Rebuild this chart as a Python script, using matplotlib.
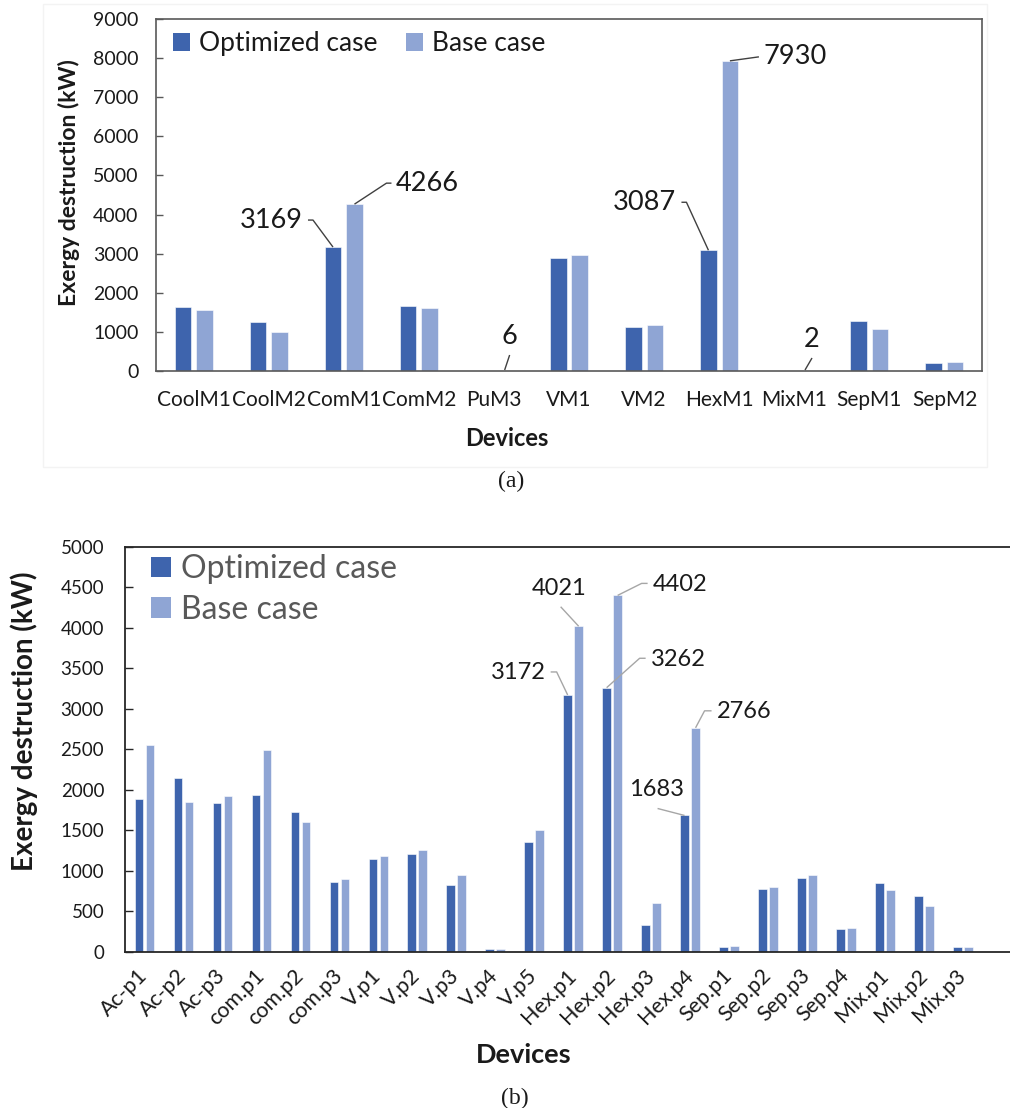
import numpy as np
import matplotlib
matplotlib.use("Agg")
import matplotlib.pyplot as plt
from matplotlib.patches import Rectangle, Patch

plt.rcParams['font.family'] = ['Lato', 'DejaVu Sans']

# ---------------- data ----------------
cats_a = ["CoolM1", "CoolM2", "ComM1", "ComM2", "PuM3", "VM1", "VM2",
          "HexM1", "MixM1", "SepM1", "SepM2"]
opt_a = [1630, 1260, 3169, 1660, 5, 2880, 1120, 3087, 2, 1290, 200]
base_a = [1550, 990, 4266, 1600, 6, 2960, 1180, 7930, 2, 1080, 240]

cats_b = ["Ac-p1", "Ac-p2", "Ac-p3", "com.p1", "com.p2", "com.p3", "V.p1",
          "V.p2", "V.p3", "V.p4", "V.p5", "Hex.p1", "Hex.p2", "Hex.p3",
          "Hex.p4", "Sep.p1", "Sep.p2", "Sep.p3", "Sep.p4", "Mix.p1",
          "Mix.p2", "Mix.p3"]
opt_b = [1890, 2150, 1840, 1940, 1725, 865, 1145, 1205, 830, 37, 1350,
         3172, 3262, 329, 1683, 62, 770, 905, 280, 848, 688, 62]
base_b = [2550, 1850, 1918, 2490, 1601, 897, 1185, 1255, 942, 37, 1498,
          4021, 4402, 601, 2766, 70, 802, 942, 288, 757, 568, 53]

series_names = ["Optimized case", "Base case"]
C_OPT = "#3E64AD"
C_BASE = "#8FA5D4"

W, H = 1010, 1108
fig = plt.figure(figsize=(W / 100, H / 100), dpi=100)

# faint chart-area border of top chart
fig.patches.append(Rectangle((43 / W, 1 - 467 / H), (987 - 43) / W, (467 - 4) / H,
                             transform=fig.transFigure, fill=False,
                             edgecolor="#F3F3F3", lw=1))


def px_ax(l, t, r, b):
    return fig.add_axes([l / W, 1 - b / H, (r - l) / W, (b - t) / H])


def leader(ax, x, y, path_px, text, text_px, ha, fs, lcolor, lw=1.0):
    base = ax.transData.transform((x, y))
    pts = np.array([base + np.array([dx, -dy]) for dx, dy in path_px])
    dp = ax.transData.inverted().transform(pts)
    ax.plot(dp[:, 0], dp[:, 1], color=lcolor, lw=lw, clip_on=False,
            solid_capstyle='butt', zorder=4)
    tp = ax.transData.inverted().transform(base + np.array([text_px[0], -text_px[1]]))
    ax.text(tp[0], tp[1], text, ha=ha, va='center', fontsize=fs,
            color="#1A1A1A", zorder=5)


# ---------------- chart (a) ----------------
ax1 = px_ax(156, 19, 982, 371)
xa = np.arange(len(cats_a))
bw = 0.22
off = 0.143
ax1.bar(xa - off, opt_a, bw, color=C_OPT, edgecolor="white", lw=0.4,
        label=series_names[0])
ax1.bar(xa + off, base_a, bw, color=C_BASE, edgecolor="white", lw=0.4,
        label=series_names[1])
ax1.set_xlim(-0.5, len(cats_a) - 0.5)
ax1.set_ylim(0, 9000)
ax1.set_yticks(np.arange(0, 9001, 1000))
ax1.set_xticks(xa)
ax1.set_xticklabels(cats_a, fontsize=15, color="#1A1A1A")
ax1.tick_params(axis='x', length=0, pad=14)
ax1.tick_params(axis='y', direction='in', length=5, width=1, color="#595959",
                labelsize=14, labelcolor="#1A1A1A", pad=12.5)
for s in ax1.spines.values():
    s.set_color("#595959")
    s.set_linewidth(1.2)
ax1.set_ylabel("Exergy destruction (kW)", fontsize=16.5, fontweight='bold',
               color="#1A1A1A")
ax1.yaxis.set_label_coords(-0.092, 0.535)
ax1.set_xlabel("Devices", fontsize=17, fontweight='bold', color="#1A1A1A")
ax1.xaxis.set_label_coords(0.425, -0.160)
h1 = [Patch(facecolor=C_OPT), Patch(facecolor=C_BASE)]
ax1.legend(h1, series_names, loc='center left', bbox_to_anchor=(0.0202, 0.929),
           ncol=2, frameon=False, fontsize=19, handlelength=0.65,
           handleheight=0.65, handletextpad=0.34, columnspacing=1.1,
           borderpad=0, borderaxespad=0, labelcolor="#1A1A1A")

ia = {c: i for i, c in enumerate(cats_a)}
k = ia["ComM1"]
leader(ax1, k - off, opt_a[k], [(0, 0), (-20, -27), (-25, -27)],
       f"{opt_a[k]}", (-30, -27), 'right', 19.5, "#404040")
leader(ax1, k + off, base_a[k], [(0, 0), (32, -21), (37, -21)],
       f"{base_a[k]}", (41, -21), 'left', 19.5, "#404040")
k = ia["HexM1"]
leader(ax1, k - off, opt_a[k], [(0, 0), (-22, -48), (-27, -48)],
       f"{opt_a[k]}", (-32, -48), 'right', 19.5, "#404040")
leader(ax1, k + off, base_a[k], [(0, 0), (29, -4)],
       f"{base_a[k]}", (34, -4), 'left', 19.5, "#404040")
k = ia["PuM3"]
leader(ax1, k + off, 0, [(0, -1), (5, -16)],
       f"{base_a[k]}", (5, -34), 'center', 19.5, "#404040")
k = ia["MixM1"]
leader(ax1, k + off, 0, [(0, -1), (7, -13)],
       f"{base_a[k]}", (7, -31), 'center', 19.5, "#404040")

fig.text(511 / W, 1 - 481 / H, "(a)", ha='center', va='center',
         fontsize=17, family='Liberation Serif', color="#1A1A1A")

# ---------------- chart (b) ----------------
ax2 = px_ax(125, 547, 1010, 951.7)
xb = np.arange(len(cats_b))
bw2 = 0.22
off2 = 0.141
ax2.bar(xb - off2, opt_b, bw2, color=C_OPT, edgecolor="white", lw=0.4,
        label=series_names[0])
ax2.bar(xb + off2, base_b, bw2, color=C_BASE, edgecolor="white", lw=0.4,
        label=series_names[1])
ax2.set_xlim(-0.5, -0.5 + 885 / 38.97)
ax2.set_ylim(0, 5000)
ax2.set_yticks(np.arange(0, 5001, 500))
ax2.set_xticks(xb)
ax2.set_xticklabels(cats_b, fontsize=15.5, color="#1A1A1A", rotation=45,
                    ha='right', va='center', rotation_mode='anchor')
ax2.tick_params(axis='x', length=0, pad=15)
ax2.tick_params(axis='y', direction='in', length=6, width=1, color="#262626",
                labelsize=13.5, labelcolor="#1A1A1A", pad=15)
for s in ax2.spines.values():
    s.set_color("#262626")
    s.set_linewidth(1.3)
ax2.spines['right'].set_visible(False)
ax2.set_ylabel("Exergy destruction (kW)", fontsize=20, fontweight='bold',
               color="#1A1A1A")
ax2.yaxis.set_label_coords(-0.098, 0.569)
ax2.set_xlabel("Devices", fontsize=19.5, fontweight='bold', color="#1A1A1A")
ax2.xaxis.set_label_coords(0.45, -0.226)
h2 = [Patch(facecolor=C_OPT), Patch(facecolor=C_BASE)]
ax2.legend(h2, series_names, loc='center left', bbox_to_anchor=(0.0294, 0.895),
           ncol=1, frameon=False, fontsize=23, handlelength=0.62,
           handleheight=0.62, handletextpad=0.32, labelspacing=0.33,
           borderpad=0, borderaxespad=0, labelcolor="#595959")

ib = {c: i for i, c in enumerate(cats_b)}
GL = "#A6A6A6"
k = ib["Hex.p1"]
leader(ax2, k - off2, opt_b[k], [(0, 0), (-11, -23), (-17, -23)],
       f"{opt_b[k]}", (-22, -22), 'right', 17, GL)
leader(ax2, k + off2, base_b[k], [(0, 0), (-18, -19.5)],
       f"{base_b[k]}", (-20, -38), 'center', 17, GL)
k = ib["Hex.p2"]
leader(ax2, k + off2, base_b[k], [(0, 0), (24, -12), (30, -12)],
       f"{base_b[k]}", (35, -11), 'left', 17, GL)
leader(ax2, k - off2, opt_b[k], [(0, 0), (33, -29.4), (39, -29.4)],
       f"{opt_b[k]}", (44, -28), 'left', 17, GL)
k = ib["Hex.p4"]
leader(ax2, k + off2, base_b[k], [(0, 0), (9, -17), (16, -17)],
       f"{base_b[k]}", (21, -16), 'left', 17, GL)
leader(ax2, k - off2, opt_b[k], [(0, 0), (-27, -7)],
       f"{opt_b[k]}", (-28, -26), 'center', 17, GL)

fig.text(515 / W, 1 - 1098 / H, "(b)", ha='center', va='center',
         fontsize=17, family='Liberation Serif', color="#1A1A1A")

fig.savefig("out.png", dpi=100, facecolor="white")
